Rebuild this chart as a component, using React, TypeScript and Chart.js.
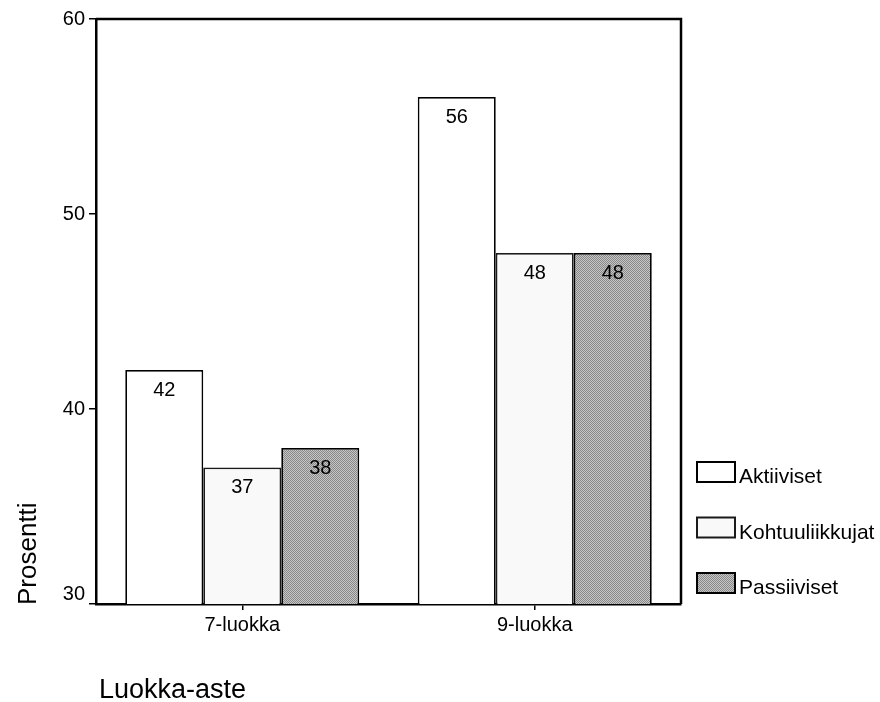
import React, { useEffect, useRef } from "react";
import { Chart, registerables } from "chart.js";

Chart.register(...registerables);

// Grade levels on the x axis
const categories = ["7-luokka", "9-luokka"];

// Activity groups (legend order) and their shares in percent
const seriesNames = ["Aktiiviset", "Kohtuuliikkujat", "Passiiviset"];
const aktiiviset = [42, 56];
const kohtuuliikkujat = [37, 48];
const passiiviset = [38, 48];

// Value axis
const yTicks = [30, 40, 50, 60];
const yTitle = "Prosentti";
const xTitle = "Luokka-aste";

const FONT = "'Liberation Sans', Arial, Helvetica, sans-serif";

function makeDither(): CanvasPattern | string {
  const c = document.createElement("canvas");
  c.width = 2;
  c.height = 2;
  const g = c.getContext("2d");
  if (!g) return "#a8a8a8";
  g.fillStyle = "#c6c6c6";
  g.fillRect(0, 0, 2, 2);
  g.fillStyle = "#888888";
  g.fillRect(0, 0, 1, 1);
  g.fillRect(1, 1, 1, 1);
  const p = g.createPattern(c, "repeat");
  return p || "#a8a8a8";
}

const decorPlugin = {
  id: "decor",
  beforeDatasetsDraw(chart: any) {
    const { ctx, chartArea } = chart;
    ctx.save();
    ctx.strokeStyle = "#000";
    ctx.lineWidth = 2.5;
    ctx.beginPath();
    ctx.moveTo(chartArea.left, chartArea.top);
    ctx.lineTo(chartArea.right, chartArea.top);
    ctx.lineTo(chartArea.right, chartArea.bottom);
    ctx.stroke();
    ctx.restore();
  },
  afterDatasetsDraw(chart: any) {
    const { ctx } = chart;
    ctx.save();
    ctx.fillStyle = "#000";
    ctx.font = `20px ${FONT}`;
    ctx.textAlign = "center";
    ctx.textBaseline = "middle";
    chart.data.datasets.forEach((ds: any, i: number) => {
      const meta = chart.getDatasetMeta(i);
      meta.data.forEach((bar: any, j: number) => {
        ctx.fillText(String(ds.data[j]), bar.x, bar.y + 20);
      });
    });
    ctx.restore();
  },
  afterDraw(chart: any) {
    const { ctx, chartArea } = chart;
    const yScale = chart.scales.y;
    ctx.save();
    ctx.fillStyle = "#000";

    // y tick labels; the lowest one sits just above the baseline
    ctx.font = `20px ${FONT}`;
    ctx.textAlign = "right";
    ctx.textBaseline = "middle";
    yTicks.forEach((v, i) => {
      const py = yScale.getPixelForValue(v) - (i === 0 ? 10 : 0);
      ctx.fillText(String(v), chartArea.left - 11, py);
    });

    // axis titles
    ctx.font = `26px ${FONT}`;
    ctx.textBaseline = "alphabetic";
    ctx.save();
    ctx.translate(36, chartArea.bottom + 1);
    ctx.rotate(-Math.PI / 2);
    ctx.textAlign = "left";
    ctx.fillText(yTitle, 0, 0);
    ctx.restore();

    ctx.font = `27px ${FONT}`;
    ctx.textAlign = "left";
    ctx.fillText(xTitle, chartArea.left + 3, 698);

    // legend
    const lx = chartArea.right + 16;
    const bw = 38;
    const bh = 20;
    ctx.font = `21px ${FONT}`;
    ctx.textAlign = "left";
    ctx.textBaseline = "alphabetic";
    chart.data.datasets.forEach((ds: any, i: number) => {
      const top = 462 + i * 55.5;
      ctx.fillStyle = ds.backgroundColor;
      ctx.fillRect(lx, top, bw, bh);
      ctx.strokeStyle = ds.borderColor;
      ctx.lineWidth = 2;
      ctx.strokeRect(lx, top, bw, bh);
      ctx.fillStyle = "#000";
      ctx.fillText(ds.label, lx + bw + 4, top + bh + 1);
    });
    ctx.restore();
  },
};

export default function App() {
  const canvasRef = useRef<HTMLCanvasElement | null>(null);

  useEffect(() => {
    const canvas = canvasRef.current;
    if (!canvas) return;
    const dither = makeDither();
    const fills = ["#ffffff", "#f9f9f9", dither];
    const borders = ["#000000", "#1a1a1a", "#000000"];
    const values = [aktiiviset, kohtuuliikkujat, passiiviset];

    const chart = new Chart(canvas, {
      type: "bar",
      data: {
        labels: categories,
        datasets: seriesNames.map((name, i) => ({
          label: name,
          data: values[i],
          backgroundColor: fills[i] as any,
          borderColor: borders[i],
          borderWidth: 1.75,
          borderSkipped: "start",
          categoryPercentage: 0.8,
          barPercentage: 1.0,
        })),
      },
      options: {
        responsive: false,
        animation: false,
        devicePixelRatio: 1,
        layout: { padding: { left: 0, top: 19, right: 199, bottom: 0 } },
        plugins: {
          legend: { display: false },
          tooltip: { enabled: false },
          title: { display: false },
        },
        scales: {
          x: {
            afterFit: (scale: any) => {
              scale.height = 98;
            },
            grid: {
              display: true,
              offset: false,
              drawOnChartArea: false,
              drawTicks: true,
              tickLength: 6,
              color: "#000",
              lineWidth: 1.5,
            },
            border: { display: true, color: "#000", width: 2.5 },
            ticks: {
              color: "#000",
              font: { family: FONT, size: 20 },
              padding: 3,
              maxRotation: 0,
            },
          },
          y: {
            min: 30,
            max: 60,
            afterFit: (scale: any) => {
              scale.width = 96;
            },
            afterBuildTicks: (scale: any) => {
              scale.ticks = yTicks.map((v) => ({ value: v }));
            },
            grid: {
              display: true,
              drawOnChartArea: false,
              drawTicks: true,
              tickLength: 7,
              color: "#000",
              lineWidth: 1.5,
            },
            border: { display: true, color: "#000", width: 2.5 },
            ticks: { display: false },
          },
        },
      },
      plugins: [decorPlugin],
    });

    return () => {
      chart.destroy();
    };
  }, []);

  return (
    <div
      style={{
        position: "fixed",
        left: 0,
        top: 0,
        width: 880,
        height: 702,
        background: "#fff",
      }}
    >
      <canvas ref={canvasRef} width={880} height={702} style={{ display: "block" }} />
    </div>
  );
}
